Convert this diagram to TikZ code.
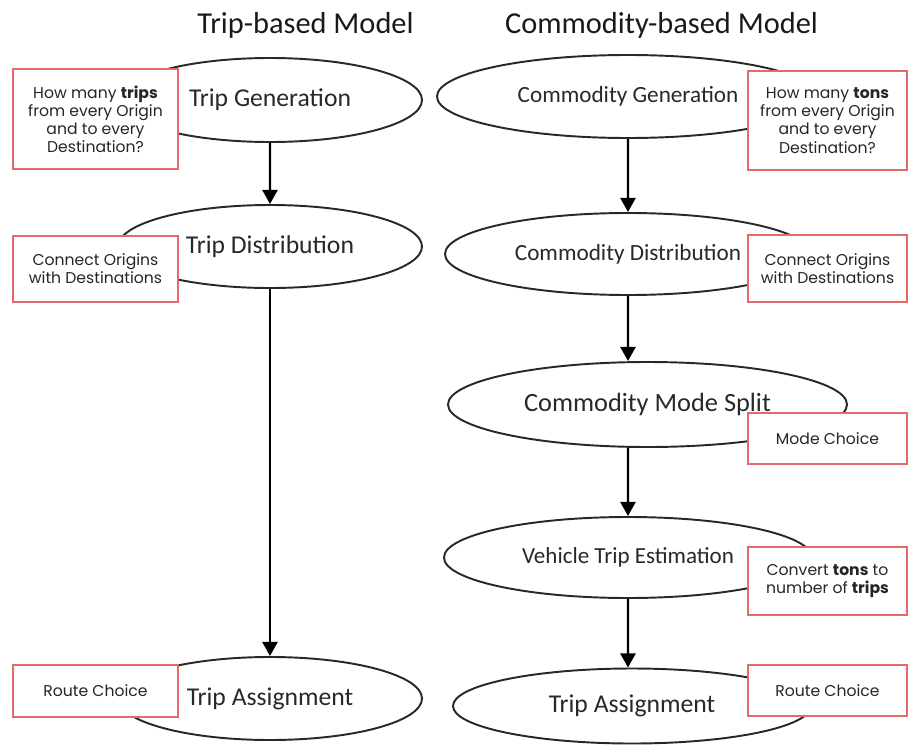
\documentclass[tikz,border=0pt]{standalone}
\usepackage{fontspec}
\setmainfont{Carlito}
\newfontfamily\notefont{Poppins}
\usetikzlibrary{shapes.geometric,arrows.meta}
\definecolor{inkgrey}{RGB}{40,40,40}
\definecolor{notered}{RGB}{228,105,105}
\begin{document}
\begin{tikzpicture}[scale=0.2]
\tikzstyle{every node}+=[inner sep=0pt]
\tikzstyle{stage}=[draw=inkgrey,line width=1.1pt,ellipse,text=inkgrey,font=\fontsize{14.6}{16}\selectfont]
\tikzstyle{note}=[draw=notered,line width=0.8pt,fill=white,align=center,text=black!85,font=\notefont\fontsize{8.9}{10.3}\selectfont]
\tikzstyle{flow}=[line width=1.4pt,-{Triangle[width=8.5pt,length=8pt]}]
\useasboundingbox (0,0) rectangle (90.9,-74.7);
\node [anchor=base,font=\fontsize{17.3}{20}\selectfont,text=black!90] (ttrip) at (30.55,-3.3) {Trip-based Model};
\node [anchor=base,font=\fontsize{17.3}{20}\selectfont,text=black!90] (tcom) at (66.15,-3.3) {Commodity-based Model};
% trip-based chain
\node [stage,minimum width=6.08cm,minimum height=1.68cm] (tg) at (27,-10) {Trip Generation};
\node [stage,minimum width=6.08cm,minimum height=1.66cm] (td) at (27,-24.65) {Trip Distribution};
\node [stage,minimum width=6.08cm,minimum height=1.66cm] (ta) at (27,-69.85) {Trip Assignment};
% commodity-based chain
\node [stage,minimum width=7.64cm,minimum height=1.66cm,font=\fontsize{13.2}{15}\selectfont] (cg) at (62.8,-9.65) {Commodity Generation\hspace{0.25cm}};
\node [stage,minimum width=7.32cm,minimum height=1.64cm,font=\fontsize{13.2}{15}\selectfont] (cd) at (62.8,-25.4) {Commodity Distribution};
\node [stage,minimum width=7.98cm,minimum height=1.70cm,font=\fontsize{15}{17}\selectfont] (cm) at (64.75,-40.45) {Commodity Mode Split};
\node [stage,minimum width=7.36cm,minimum height=1.62cm,font=\fontsize{13.1}{15}\selectfont] (vt) at (62.8,-55.75) {Vehicle Trip Estimation\hspace{0.25cm}};
\node [stage,minimum width=7.16cm,minimum height=1.50cm] (tb) at (63.2,-70.6) {Trip Assignment};
\draw [flow] (tg) -- (td);
\draw [flow] (td) -- (ta);
\draw [flow] (cg) -- (cd);
\draw [flow] (cd) -- (cd |- cm.north);
\draw [flow] (cm.south -| vt) -- (vt);
\draw [flow] (vt) -- (vt |- tb.north);
% notes
\node [note,minimum width=3.30cm,minimum height=2.00cm] (n1) at (9.55,-11.9) {How many \textbf{trips}\\from every Origin\\and to every\\Destination?};
\node [note,minimum width=3.30cm,minimum height=1.32cm] (n2) at (9.55,-26.9) {Connect Origins\\with Destinations};
\node [note,minimum width=3.30cm,minimum height=1.04cm] (n3) at (9.55,-69.1) {Route Choice};
\node [note,minimum width=3.18cm,minimum height=1.98cm] (m1) at (82.75,-12.05) {How many \textbf{tons}\\from every Origin\\and to every\\Destination?};
\node [note,minimum width=3.18cm,minimum height=1.34cm] (m2) at (82.75,-26.85) {Connect Origins\\with Destinations};
\node [note,minimum width=3.18cm,minimum height=1.02cm] (m3) at (82.75,-43.85) {Mode Choice};
\node [note,minimum width=3.18cm,minimum height=1.36cm] (m4) at (82.75,-58.1) {Convert \textbf{tons} to\\number of \textbf{trips}};
\node [note,minimum width=3.18cm,minimum height=1.02cm] (m5) at (82.75,-69.05) {Route Choice};
\end{tikzpicture}
\end{document}
